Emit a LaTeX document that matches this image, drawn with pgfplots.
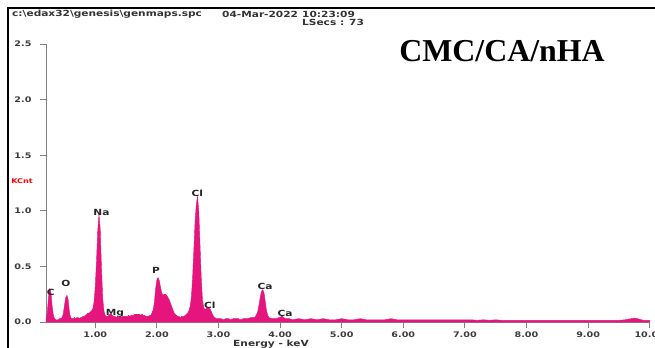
\documentclass[border=0pt]{standalone}
\usepackage{pgfplots}
\pgfplotsset{compat=1.18}
\usepackage{fontspec}
\setmainfont{Liberation Serif}
\newfontfamily\lab[FakeStretch=1.25]{DejaVu Sans}
\definecolor{spec}{RGB}{230,20,125}
\definecolor{tk}{RGB}{60,60,60}

\begin{document}
\begin{tikzpicture}
\useasboundingbox (0,0) rectangle (655bp,348bp);
\fill[white] (0,0) rectangle (655bp,348bp);
\draw[black, line width=1.6bp] (8bp,-2bp) -- (8bp,340bp) -- (657bp,340bp);
\begin{axis}[
  at={(46bp,26bp)}, anchor=south west,
  scale only axis, width=603.7bp, height=277.8bp,
  xmin=0.2, xmax=10, ymin=0, ymax=2.5,
  clip=false,
  axis x line*=bottom, axis y line*=left,
  axis line style={gray, line width=0.8bp},
  tick style={gray, line width=0.8bp},
  tick align=outside, major tick length=6bp,
  xtick={1,2,3,4,5,6,7,8,9,10}, ytick={0,0.5,1,1.5,2,2.5},
  /pgf/number format/assume math mode=true,
  ticklabel style={font=\lab\bfseries\fontsize{7.7}{8}\selectfont, text=tk},
  xticklabel style={/pgf/number format/.cd, fixed, fixed zerofill, precision=2},
  yticklabel style={xshift=-5bp, /pgf/number format/.cd, fixed, fixed zerofill, precision=1},
]
\addplot[draw=spec, fill=spec, line width=0.4bp] coordinates {
(0.20,0.02) (0.22,0.08) (0.24,0.22) (0.26,0.30) (0.28,0.27) (0.30,0.14) (0.32,0.06) (0.34,0.03)
(0.36,0.02) (0.38,0.02) (0.40,0.02) (0.42,0.03) (0.44,0.03) (0.46,0.04) (0.48,0.07) (0.50,0.15)
(0.52,0.22) (0.54,0.24) (0.56,0.20) (0.58,0.09) (0.60,0.04) (0.62,0.03) (0.64,0.03) (0.66,0.04)
(0.68,0.03) (0.70,0.04) (0.72,0.04) (0.74,0.03) (0.76,0.04) (0.78,0.04) (0.80,0.05) (0.82,0.05)
(0.84,0.06) (0.86,0.07) (0.88,0.08) (0.90,0.08) (0.92,0.09) (0.94,0.10) (0.96,0.12) (0.98,0.18)
(1.00,0.32) (1.02,0.55) (1.04,0.82) (1.06,0.97) (1.08,0.84) (1.10,0.50) (1.12,0.22) (1.14,0.10)
(1.16,0.06) (1.18,0.05) (1.20,0.05) (1.22,0.06) (1.24,0.07) (1.26,0.07) (1.28,0.06) (1.30,0.05)
(1.32,0.05) (1.34,0.04) (1.36,0.05) (1.38,0.04) (1.40,0.05) (1.42,0.04) (1.44,0.05) (1.46,0.05)
(1.48,0.05) (1.50,0.05) (1.52,0.05) (1.54,0.06) (1.56,0.05) (1.58,0.06) (1.60,0.06) (1.62,0.06)
(1.64,0.07) (1.66,0.07) (1.68,0.07) (1.70,0.07) (1.72,0.07) (1.74,0.06) (1.76,0.07) (1.78,0.06)
(1.80,0.06) (1.82,0.05) (1.84,0.05) (1.86,0.05) (1.88,0.06) (1.90,0.06) (1.92,0.08) (1.94,0.11)
(1.96,0.18) (1.98,0.30) (2.00,0.38) (2.02,0.40) (2.04,0.37) (2.06,0.31) (2.08,0.26) (2.10,0.24)
(2.12,0.25) (2.14,0.25) (2.16,0.24) (2.18,0.22) (2.20,0.20) (2.22,0.17) (2.24,0.14) (2.26,0.11)
(2.28,0.08) (2.30,0.07) (2.32,0.06) (2.34,0.05) (2.36,0.05) (2.38,0.04) (2.40,0.05) (2.42,0.05)
(2.44,0.05) (2.46,0.06) (2.48,0.07) (2.50,0.08) (2.52,0.10) (2.54,0.14) (2.56,0.22) (2.58,0.40)
(2.60,0.65) (2.62,0.90) (2.64,1.06) (2.66,1.13) (2.68,1.00) (2.70,0.70) (2.72,0.40) (2.74,0.20)
(2.76,0.13) (2.78,0.11) (2.80,0.12) (2.82,0.13) (2.84,0.12) (2.86,0.12) (2.88,0.10) (2.90,0.07)
(2.92,0.05) (2.94,0.04) (2.96,0.03) (3.00,0.03) (3.04,0.03) (3.08,0.02) (3.12,0.03) (3.16,0.03)
(3.20,0.02) (3.24,0.03) (3.28,0.03) (3.32,0.03) (3.36,0.02) (3.40,0.03) (3.44,0.03) (3.48,0.03)
(3.52,0.04) (3.56,0.04) (3.58,0.04) (3.60,0.05) (3.62,0.07) (3.64,0.10) (3.66,0.16) (3.68,0.23)
(3.70,0.28) (3.72,0.29) (3.74,0.26) (3.76,0.18) (3.78,0.10) (3.80,0.06) (3.82,0.04) (3.86,0.03)
(3.90,0.03) (3.94,0.03) (3.98,0.04) (4.00,0.04) (4.02,0.05) (4.04,0.05) (4.06,0.04) (4.08,0.03)
(4.15,0.03) (4.20,0.02) (4.30,0.03) (4.40,0.02) (4.50,0.03) (4.60,0.02) (4.70,0.03) (4.80,0.02)
(4.90,0.02) (5.00,0.03) (5.10,0.02) (5.20,0.02) (5.30,0.03) (5.40,0.02) (5.50,0.02) (5.60,0.02)
(5.70,0.02) (5.80,0.03) (5.90,0.02) (6.00,0.02) (6.10,0.02) (6.20,0.02) (6.30,0.02) (6.40,0.02)
(6.50,0.02) (6.60,0.02) (6.70,0.02) (6.80,0.02) (6.90,0.02) (7.00,0.02) (7.10,0.02) (7.20,0.015)
(7.30,0.02) (7.40,0.015) (7.50,0.02) (7.60,0.015) (7.70,0.015) (7.80,0.015) (7.90,0.015) (8.00,0.015)
(8.10,0.015) (8.20,0.015) (8.30,0.015) (8.40,0.015) (8.50,0.015) (8.60,0.015) (8.70,0.015) (8.80,0.015)
(8.90,0.015) (9.00,0.015) (9.10,0.015) (9.20,0.015) (9.30,0.015) (9.40,0.015) (9.50,0.015) (9.60,0.02)
(9.70,0.03) (9.75,0.035) (9.80,0.03) (9.90,0.015) (10.00,0.015)
} \closedcycle;
\begin{scope}[every node/.style={font=\lab\bfseries\fontsize{8.5}{9}\selectfont, text=black!85, inner sep=0pt}]
\node at (axis cs:0.276,0.27) {C};
\node at (axis cs:0.524,0.35) {O};
\node at (axis cs:1.10,0.99) {Na};
\node at (axis cs:1.32,0.08) {Mg};
\node at (axis cs:1.985,0.46) {P};
\node at (axis cs:2.656,1.16) {Cl};
\node at (axis cs:2.86,0.15) {Cl};
\node at (axis cs:3.755,0.32) {Ca};
\node at (axis cs:4.08,0.08) {Ca};
\end{scope}
\end{axis}
\begin{scope}[every node/.style={font=\lab\bfseries\fontsize{8.5}{9}\selectfont, text=black!80, inner sep=0pt}]
\node[anchor=west] at (12bp,334bp) {c:\textbackslash edax32\textbackslash genesis\textbackslash genmaps.spc};
\node[anchor=west] at (222bp,334bp) {04-Mar-2022};
\node[anchor=west] at (302bp,334bp) {10:23:09};
\node[anchor=west] at (302bp,326bp) {LSecs : 73};
\node at (271bp,4bp) {Energy - keV};
\end{scope}
\node[font=\lab\bfseries\fontsize{6.5}{7}\selectfont, text=red, inner sep=0pt] at (22bp,167bp) {KCnt};
\node[anchor=base, font=\bfseries\fontsize{32}{32}\selectfont, inner sep=0pt] at (502bp,286bp) {CMC/CA/nHA};
\end{tikzpicture}
\end{document}
